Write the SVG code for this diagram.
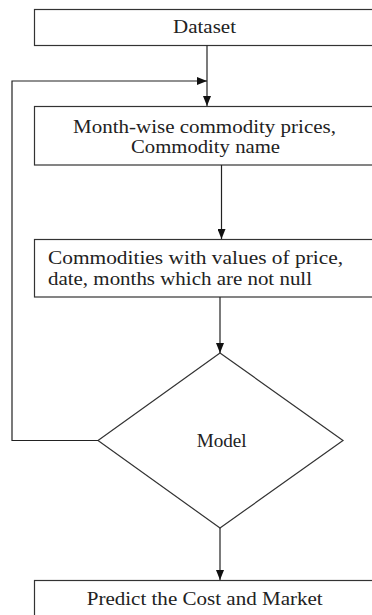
<svg xmlns="http://www.w3.org/2000/svg" width="372" height="615" viewBox="0 0 372 615">
<defs>
<marker id="ah" markerUnits="userSpaceOnUse" markerWidth="10" markerHeight="8" refX="10" refY="4" orient="auto">
<path d="M0,0 L10,4 L0,8 Z" fill="#111"/>
</marker>
<style>
.box{fill:#fff;stroke:#333;stroke-width:1.2}
.t{font-family:"Liberation Serif","Times New Roman",serif;font-size:19px;fill:#222}
.c{fill:none;stroke:#222;stroke-width:1.2;marker-end:url(#ah)}
.l{fill:none;stroke:#222;stroke-width:1.2}
</style>
</defs>
<rect width="372" height="615" fill="#fff"/>
<g id="dataset">
<rect class="box" x="34.5" y="9.5" width="350" height="36"/>
<text class="t" x="173" y="33.3" textLength="63" lengthAdjust="spacingAndGlyphs">Dataset</text>
</g>
<g id="month">
<rect class="box" x="34.5" y="106.5" width="350" height="58.5"/>
<text class="t" x="73" y="133.3" textLength="263" lengthAdjust="spacingAndGlyphs">Month-wise commodity prices,</text>
<text class="t" x="131" y="153.3" textLength="149" lengthAdjust="spacingAndGlyphs">Commodity name</text>
</g>
<g id="commodities">
<rect class="box" x="34.5" y="239.5" width="350" height="57.5"/>
<text class="t" x="48" y="263.5" textLength="295" lengthAdjust="spacingAndGlyphs">Commodities with values of price,</text>
<text class="t" x="48" y="285" textLength="264" lengthAdjust="spacingAndGlyphs">date, months which are not null</text>
</g>
<g id="model">
<polygon class="box" points="220,353 343,440.5 220,528 98,440.5"/>
<text class="t" x="196.7" y="446.7" style="font-size:18px" textLength="50" lengthAdjust="spacingAndGlyphs">Model</text>
</g>
<g id="predict">
<rect class="box" x="34.5" y="580.5" width="350" height="50"/>
<text class="t" x="86.7" y="605" textLength="236" lengthAdjust="spacingAndGlyphs">Predict the Cost and Market</text>
</g>
<g id="connectors">
<path class="c" d="M207,45.5 L207,106"/>
<path class="c" d="M98,440.5 L12,440.5 L12,81 L207,81"/>
<path class="c" d="M221.5,165 L221.5,239"/>
<path class="c" d="M220,297 L220,353"/>
<path class="c" d="M220,528 L220,580"/>
</g>
</svg>
